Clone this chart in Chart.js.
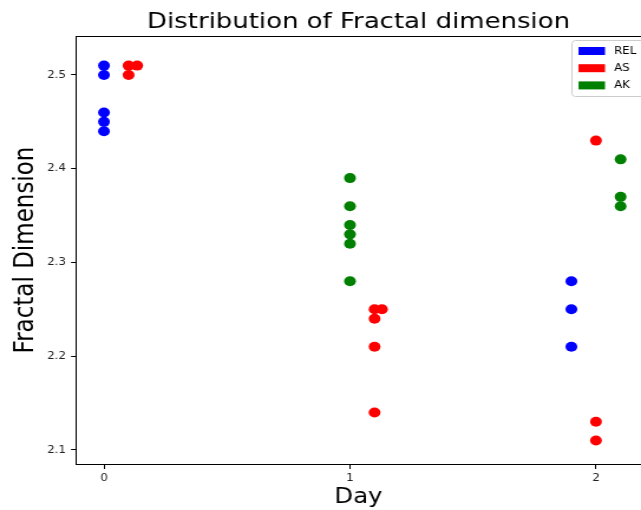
<!DOCTYPE html>
<html>
<head>
<meta charset="utf-8">
<script src="https://cdn.jsdelivr.net/npm/chart.js@4/dist/chart.umd.min.js"></script>
<style>
html,body{margin:0;padding:0;background:#fff;}
#wrap{width:641px;height:510px;position:relative;overflow:hidden;}
#c{width:641px;height:510px;display:block;}
</style>
</head>
<body>
<div id="wrap"><canvas id="c" width="543" height="510" style="width:641px;height:510px"></canvas></div>
<script>
const seriesLabels = ["REL", "AS", "AK"];
const seriesColors = ["#0000ff", "#ff0000", "#008000"];
const relX = [0, 0, 0, 0, 0, 1.9, 1.9, 1.9];
const relY = [2.51, 2.50, 2.46, 2.45, 2.44, 2.28, 2.25, 2.21];
const asX = [0.1, 0.1, 0.135, 1.1, 1.1, 1.1, 1.1, 1.13, 2, 2, 2];
const asY = [2.51, 2.50, 2.51, 2.25, 2.24, 2.21, 2.14, 2.25, 2.43, 2.13, 2.11];
const akX = [1, 1, 1, 1, 1, 1, 2.1, 2.1, 2.1];
const akY = [2.39, 2.36, 2.34, 2.33, 2.32, 2.28, 2.41, 2.37, 2.36];
const xTicks = [0, 1, 2];
const yTicks = [2.1, 2.2, 2.3, 2.4, 2.5];

const toPts = (xs, ys) => xs.map((x, i) => ({x: x, y: ys[i]}));
const seriesData = [toPts(relX, relY), toPts(asX, asY), toPts(akX, akY)];

const FONT = "'DejaVu Sans', sans-serif";
// the reference picture is stretched horizontally; the canvas is drawn narrower and widened by CSS
const SX = 641 / 543;

const frameAndLegend = {
  id: 'frameAndLegend',
  afterDraw(chart) {
    const ctx = chart.ctx;
    const a = chart.chartArea;
    ctx.save();
    // top spine
    ctx.strokeStyle = '#000';
    ctx.lineWidth = 1;
    ctx.beginPath();
    ctx.moveTo(a.left, a.top + 0.5);
    ctx.lineTo(a.right, a.top + 0.5);
    ctx.stroke();
    // legend box
    const bx = a.right - 69 / SX, by = a.top + 4.5, bw = 80, bh = 56, r = 3;
    ctx.fillStyle = 'rgba(255,255,255,0.8)';
    ctx.strokeStyle = '#cccccc';
    ctx.beginPath();
    ctx.moveTo(bx + r, by);
    ctx.lineTo(bx + bw - r, by);
    ctx.arcTo(bx + bw, by, bx + bw, by + r, r);
    ctx.lineTo(bx + bw, by + bh - r);
    ctx.arcTo(bx + bw, by + bh, bx + bw - r, by + bh, r);
    ctx.lineTo(bx + r, by + bh);
    ctx.arcTo(bx, by + bh, bx, by + bh - r, r);
    ctx.lineTo(bx, by + r);
    ctx.arcTo(bx, by, bx + r, by, r);
    ctx.closePath();
    ctx.fill();
    ctx.stroke();
    ctx.font = "10px " + FONT;
    ctx.textBaseline = 'middle';
    chart.data.datasets.forEach((ds, i) => {
      const cy = by + 10.5 + i * 17.2;
      ctx.fillStyle = ds.backgroundColor;
      ctx.fillRect(bx + 6.5 / SX, cy - 4, 26.5 / SX, 8);
      ctx.fillStyle = '#000';
      ctx.fillText(ds.label, bx + 42 / SX, cy);
    });
    ctx.restore();
  }
};

new Chart(document.getElementById('c'), {
  type: 'scatter',
  data: {
    datasets: seriesLabels.map((lab, i) => ({
      label: lab,
      data: seriesData[i],
      backgroundColor: seriesColors[i],
      borderColor: seriesColors[i],
      borderWidth: 0,
      pointRadius: 5,
      pointHoverRadius: 5
    }))
  },
  options: {
    responsive: false,
    animation: false,
    devicePixelRatio: 1,
    layout: {autoPadding: false, padding: {left: 0, right: 0, top: 0, bottom: 0}},
    plugins: {
      legend: {display: false},
      tooltip: {enabled: false},
      title: {
        display: true,
        text: 'Distribution of Fractal dimension',
        fullSize: false,
        color: '#000',
        font: {family: FONT, size: 22, weight: 'normal', lineHeight: 1.2},
        padding: {top: 8.6, bottom: 1}
      }
    },
    scales: {
      x: {
        type: 'linear',
        min: -0.1137,
        max: 2.183,
        afterBuildTicks: s => { s.ticks = xTicks.map(v => ({value: v})); },
        afterFit: s => { s.height = 46; },
        ticks: {
          color: '#222',
          font: {family: FONT, size: 10},
          padding: 3,
          maxRotation: 0,
          callback: v => String(v)
        },
        grid: {display: true, drawOnChartArea: false, drawTicks: true, tickLength: 5, tickColor: '#000'},
        border: {display: true, color: '#000', width: 1},
        title: {
          display: true,
          text: 'Day',
          color: '#000',
          font: {family: FONT, size: 20.6, lineHeight: 1.2},
          padding: {top: 0, bottom: 0}
        }
      },
      y: {
        type: 'linear',
        min: 2.085,
        max: 2.5416,
        afterBuildTicks: s => { s.ticks = yTicks.map(v => ({value: v})); },
        afterFit: s => { s.width = 76 / SX; },
        ticks: {
          color: '#222',
          font: {family: FONT, size: 10},
          padding: 4.3,
          callback: v => v.toFixed(1)
        },
        grid: {display: true, drawOnChartArea: false, drawTicks: true, tickLength: 4.2, tickColor: '#000'},
        border: {display: true, color: '#000', width: 1},
        title: {
          display: true,
          text: 'Fractal Dimension',
          color: '#000',
          font: {family: FONT, size: 23, lineHeight: 1.2},
          padding: {top: 8, bottom: 0}
        }
      }
    }
  },
  plugins: [frameAndLegend]
});
</script>
</body>
</html>
